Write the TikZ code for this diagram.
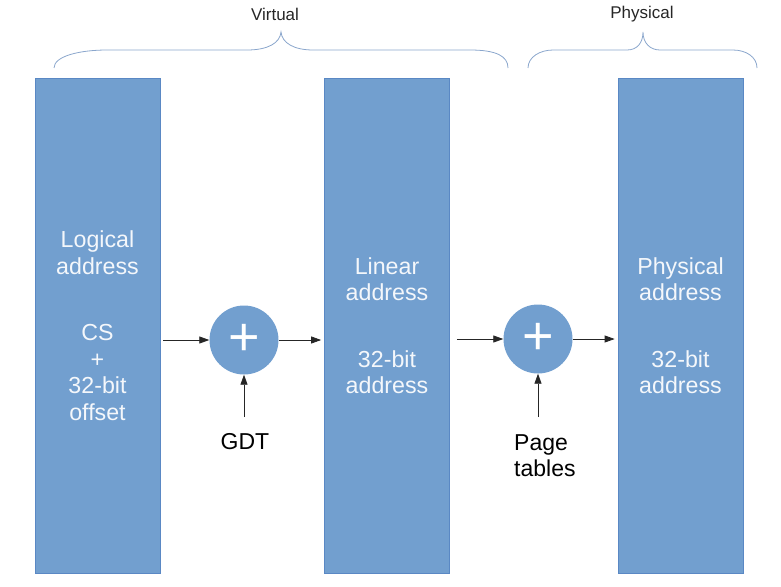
\documentclass[tikz,border=0pt]{standalone}
\usepackage{fontspec}
\setmainfont{Liberation Sans}
\usetikzlibrary{arrows.meta}
\definecolor{boxblue}{HTML}{729FCF}
\definecolor{boxedge}{HTML}{5A88C4}
\definecolor{bracec}{HTML}{8AA6CC}
\definecolor{txtwhite}{HTML}{F4F7FB}
\tikzset{
  box/.style={rectangle, fill=boxblue, draw=boxedge, line width=0.7pt,
    minimum width=125pt, minimum height=495pt, inner sep=0pt,
    text=txtwhite, align=center, font=\fontsize{23.2}{26.5}\selectfont},
  adder/.style={circle, fill=boxblue, draw=none, minimum size=69pt, inner sep=0pt,
    text=white, font=\fontsize{54}{54}\selectfont},
  arr/.style={-{Triangle[length=10pt,width=7pt]}, line width=0.8pt, draw=black!85},
  bracepath/.style={draw=bracec, line width=0.8pt},
  toplabel/.style={font=\fontsize{17}{20}\selectfont, text=black!85, inner sep=0pt},
  inlabel/.style={font=\fontsize{23}{26}\selectfont, text=black, inner sep=0pt, align=left}
}
\begin{document}
\begin{tikzpicture}[x=1pt,y=-1pt]
\useasboundingbox (0,0) rectangle (781,586);
% boxes
\node[box] (log) at (97.5,325.5) {Logical\\address\\[40pt]CS\\+\\32-bit\\offset};
\node[box] (lin) at (387,325.5) {Linear\\address\\[40pt]32-bit\\address};
\node[box] (phy) at (680.5,325.5) {Physical\\address\\[40pt]32-bit\\address};
% adders
\node[adder] (c1) at (244,340) {+};
\node[adder] (c2) at (538,339) {+};
% labels
\node[inlabel] (gdt) at (245,442) {GDT};
\node[inlabel, anchor=north west] (pt) at (514,434) {Page\\tables};
\coordinate (g1) at (244,417);
\coordinate (g2) at (538,417);
% arrows
\draw[arr, shorten <=3pt] (log.east |- c1) -- (c1.west);
\draw[arr, shorten >=3pt] (c1.east) -- (lin.west |- c1);
\draw[arr, shorten <=7pt] (lin.east |- c2) -- (c2.west);
\draw[arr, shorten >=3pt] (c2.east) -- (phy.west |- c2);
\draw[arr] (g1) -- (c1.south);
\draw[arr] (g2) -- (c2.south);
% braces
\draw[bracepath] (54,68) .. controls (54,56) and (80,50) .. (107,50) -- (247,50)
  .. controls (268,50) and (280,43) .. (281,32)
  .. controls (282,43) and (294,50) .. (313,50) -- (470,50)
  .. controls (496,50) and (508,56) .. (508,68);
\draw[bracepath] (528,68) .. controls (528,57) and (540,50) .. (553,50) -- (627,50)
  .. controls (637,50) and (643,43) .. (643,32)
  .. controls (643,43) and (650,50) .. (660,50) -- (733,50)
  .. controls (746,50) and (757,57) .. (757,68);
\node[toplabel] (virt) at (275,14) {Virtual};
\node[toplabel] (phys) at (642,14) {Physical};
\end{tikzpicture}
\end{document}
